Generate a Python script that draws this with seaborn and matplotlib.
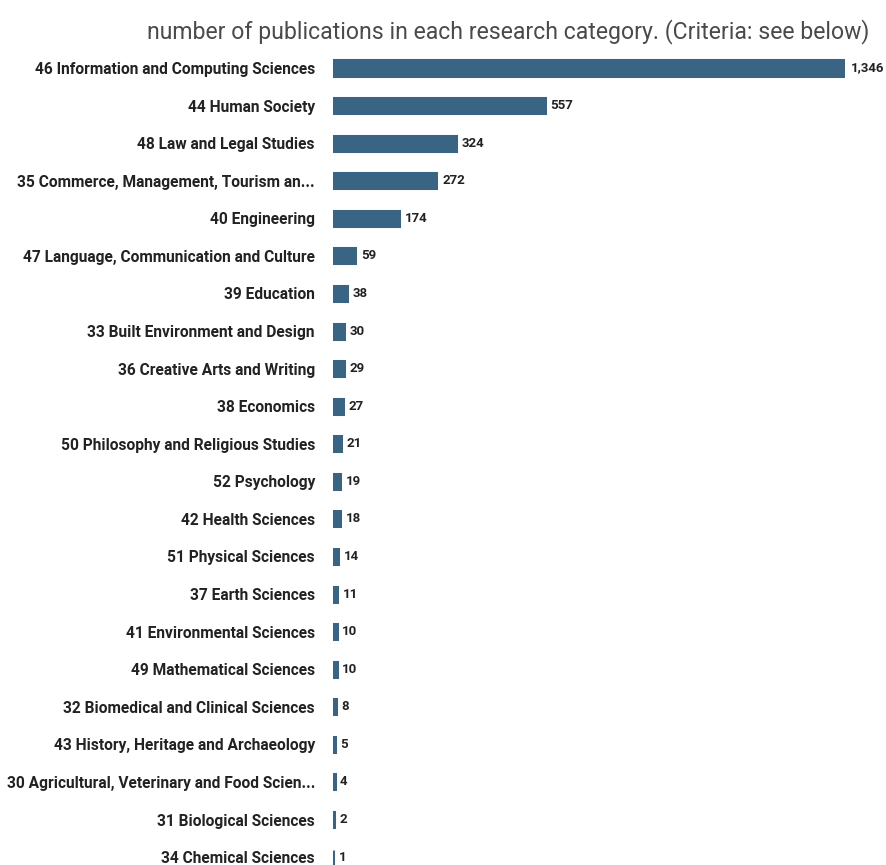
import matplotlib
matplotlib.use("Agg")
import matplotlib.pyplot as plt
import seaborn as sns
import pandas as pd

categories = [
    "46 Information and Computing Sciences",
    "44 Human Society",
    "48 Law and Legal Studies",
    "35 Commerce, Management, Tourism an...",
    "40 Engineering",
    "47 Language, Communication and Culture",
    "39 Education",
    "33 Built Environment and Design",
    "36 Creative Arts and Writing",
    "38 Economics",
    "50 Philosophy and Religious Studies",
    "52 Psychology",
    "42 Health Sciences",
    "51 Physical Sciences",
    "37 Earth Sciences",
    "41 Environmental Sciences",
    "49 Mathematical Sciences",
    "32 Biomedical and Clinical Sciences",
    "43 History, Heritage and Archaeology",
    "30 Agricultural, Veterinary and Food Scien...",
    "31 Biological Sciences",
    "34 Chemical Sciences",
]
counts = [1346, 557, 324, 272, 174, 59, 38, 30, 29, 27, 21, 19, 18, 14, 11, 10, 10, 8, 5, 4, 2, 1]

df = pd.DataFrame({"category": categories, "count": counts})

sns.set_style("white")
plt.rcParams['font.family'] = ['Roboto', 'DejaVu Sans']

bar_color = "#3a6484"
W, H = 886, 865
fig = plt.figure(figsize=(W / 100, H / 100), dpi=100)
ax = fig.add_axes([333 / W, 0, (845 - 333) / W, 825 / H])

# thick edge in the bar colour keeps the tiny bars visible, like the original
sns.barplot(data=df, x="count", y="category", orient="h", color=bar_color,
            width=0.40, saturation=1, edgecolor=bar_color, linewidth=2.2, ax=ax)

ax.set_xlim(0, 1346)
ax.set_ylim(21.21, -0.745)
for i, v in enumerate(counts):
    ax.annotate(f"{v:,}", (v, i), xytext=(4, 0), textcoords="offset points",
                va="center", ha="left", fontsize=9.5, fontweight="bold", color="#222222")

ax.set_xlabel("")
ax.set_ylabel("")
ax.set_xticks([])
ax.tick_params(axis="y", length=0, pad=13)
for lbl in ax.get_yticklabels():
    lbl.set_fontweight("bold")
    lbl.set_fontsize(11.2)
    lbl.set_color("#222222")
sns.despine(ax=ax, left=True, bottom=True)

fig.text(508 / W, 1 - 32 / H, "number of publications in each research category. (Criteria: see below)",
         ha="center", va="center", fontsize=16.6, color="#4a4a4a")

fig.savefig("out.png", dpi=100)
